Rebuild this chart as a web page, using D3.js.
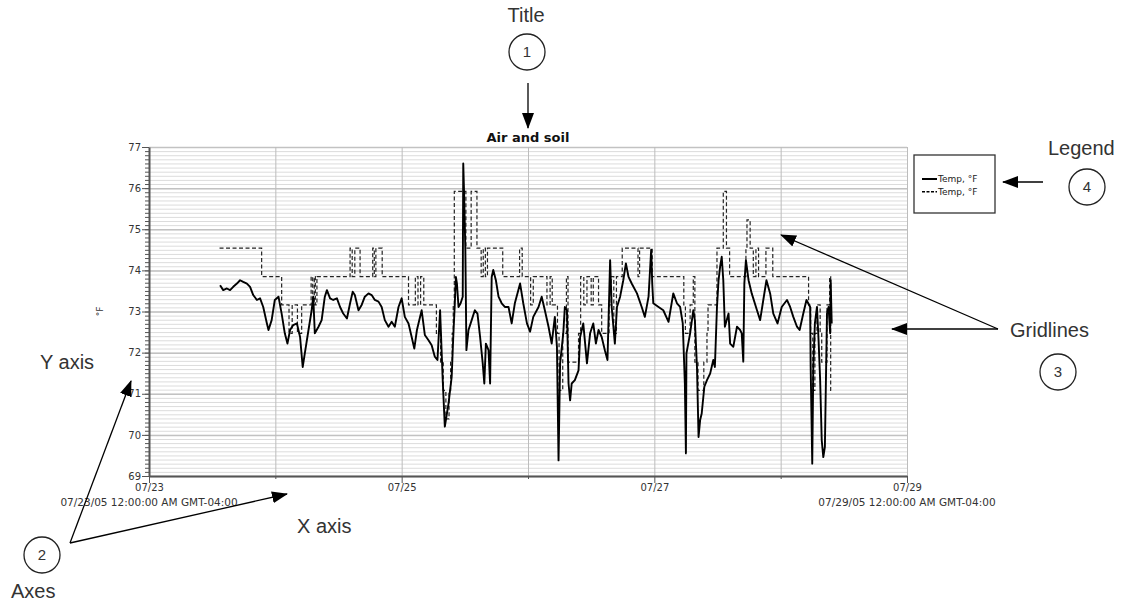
<!DOCTYPE html>
<html>
<head>
<meta charset="utf-8">
<style>
body { margin: 0; background: #fff; }
svg text { font-family: "DejaVu Sans", sans-serif; }
.note { font-family: "Liberation Sans", Arial, sans-serif !important; font-size: 20px; fill: #333; }
</style>
</head>
<body>
<svg width="1131" height="603"></svg>
<script src="https://d3js.org/d3.v7.min.js"></script>
<script>
// data: [hours since 07/23 00:00, temp °F]
var solidSeries = [
  [13.5,73.64],[14.1,73.52],[14.8,73.56],[15.4,73.52],[16.0,73.60],[16.7,73.68],[17.3,73.76],[17.9,73.72],
  [18.6,73.68],[19.2,73.60],[19.8,73.40],[20.5,73.28],[21.1,73.32],[21.7,73.11],[22.4,72.71],[22.7,72.55],
  [23.3,72.79],[23.9,73.28],[24.6,73.36],[25.2,72.95],[25.8,72.47],[26.3,72.22],[26.8,72.55],[27.4,72.67],
  [28.1,72.71],[28.7,72.38],[29.2,71.65],[29.6,71.98],[30.3,72.55],[30.9,73.03],[31.2,73.36],[31.5,72.47],
  [32.2,72.63],[32.8,72.79],[33.4,73.36],[33.8,73.52],[34.4,73.32],[35.0,73.28],[35.7,73.32],[36.3,73.11],
  [36.9,72.95],[37.6,72.83],[38.2,73.20],[38.7,73.48],[39.1,73.40],[39.8,73.03],[40.4,73.16],[41.0,73.36],
  [41.7,73.44],[42.3,73.40],[42.9,73.28],[43.6,73.24],[44.2,73.11],[44.8,72.79],[45.5,72.63],[46.1,72.75],
  [46.7,72.63],[47.4,73.11],[48.0,73.32],[48.6,72.87],[49.3,72.71],[49.9,72.38],[50.4,72.10],[50.9,72.55],
  [51.5,72.87],[51.8,73.03],[52.4,72.43],[53.1,72.30],[53.7,72.18],[54.3,71.90],[54.8,71.82],[55.3,73.03],
  [55.8,71.33],[56.2,70.20],[56.9,70.76],[57.5,71.41],[57.8,72.38],[58.1,73.20],[58.3,73.84],[58.5,73.68],
  [58.8,73.11],[59.2,73.20],[59.6,73.36],[59.7,76.60],[59.85,75.91],[60.1,74.49],[60.3,72.06],[60.7,72.55],
  [61.3,72.79],[61.9,73.03],[62.4,72.95],[62.9,72.38],[63.4,71.74],[63.7,71.25],[64.0,72.22],[64.5,72.06],
  [64.8,71.25],[65.1,73.84],[65.4,74.01],[65.9,73.76],[66.4,73.36],[67.0,73.20],[67.6,73.11],[68.3,73.11],
  [68.9,72.71],[69.5,73.20],[70.5,73.68],[71.1,73.20],[71.8,72.71],[72.4,72.51],[73.0,72.87],[74.0,73.11],
  [74.6,73.36],[75.2,73.03],[75.9,72.63],[76.5,72.22],[77.1,72.87],[77.5,72.14],[77.8,69.38],[78.1,71.74],
  [78.7,72.47],[79.0,73.11],[79.4,73.03],[79.7,71.25],[80.0,70.84],[80.3,71.25],[80.9,71.33],[81.6,71.57],
  [81.9,72.38],[82.5,72.71],[83.2,71.74],[83.8,72.47],[84.4,72.71],[84.9,72.22],[85.4,72.55],[86.0,72.38],
  [86.6,72.06],[87.1,71.82],[87.6,74.25],[87.9,73.11],[88.5,72.22],[88.9,73.11],[89.5,73.36],[90.1,73.76],
  [90.6,74.17],[91.1,73.84],[91.7,73.68],[92.7,73.44],[93.6,73.11],[94.2,72.87],[94.9,73.36],[95.4,74.50],
  [95.6,73.68],[95.8,73.20],[96.8,73.11],[97.7,73.03],[98.7,72.75],[99.6,73.44],[100.3,73.20],[100.9,73.11],
  [101.4,72.71],[101.8,71.25],[102.0,69.55],[102.1,71.98],[102.8,72.47],[103.4,73.03],[103.7,72.79],[104.1,71.65],
  [104.4,69.95],[104.7,70.36],[105.0,70.52],[105.5,71.17],[106.0,71.33],[106.6,71.49],[107.2,71.82],[107.5,71.65],
  [107.9,73.11],[108.2,73.76],[108.5,74.09],[108.8,74.33],[109.1,73.76],[109.4,72.63],[110.1,72.95],[110.4,72.22],
  [111.0,72.14],[111.7,72.63],[112.3,72.55],[112.6,72.47],[112.9,71.78],[113.1,73.68],[113.4,74.25],[113.9,73.76],
  [114.5,73.44],[115.5,73.03],[116.1,72.79],[116.7,73.28],[117.3,73.76],[118.0,73.44],[118.6,72.95],[119.4,72.71],
  [120.2,73.11],[121.2,73.28],[121.8,73.11],[122.4,72.87],[123.1,72.63],[123.6,72.55],[124.3,72.95],[124.9,73.28],
  [125.6,73.11],[125.7,71.65],[126.0,69.30],[126.2,71.65],[126.5,72.71],[126.9,73.11],[127.2,72.30],[127.5,71.33],
  [127.8,69.87],[128.1,69.46],[128.4,69.71],[128.8,72.95],[129.1,73.11],[129.4,72.47],[129.5,73.76],[129.7,72.71]
];
var dashSeries = [
  [13.4,74.54],[21.4,73.85],[25.2,73.16],[26.6,72.47],[27.2,73.16],[28.2,72.47],[29.0,73.16],[30.8,73.85],
  [31.1,73.16],[31.4,73.85],[31.6,73.16],[31.9,73.85],[38.2,74.54],[38.6,73.85],[39.1,74.54],[40.1,73.85],
  [42.5,74.54],[42.8,73.85],[43.1,74.54],[44.3,73.85],[49.3,73.16],[50.6,73.85],[51.1,73.16],[51.6,73.85],
  [52.2,73.16],[54.6,72.47],[55.4,71.77],[55.9,71.08],[56.4,70.39],[57.0,71.08],[57.3,71.77],[57.6,72.47],
  [57.8,73.16],[58.0,75.92],[60.2,74.54],[61.2,75.92],[62.3,74.54],[63.1,73.85],[63.5,74.54],[63.9,73.85],
  [64.3,74.54],[67.2,73.85],[70.4,74.54],[70.9,73.85],[72.5,73.16],[73.0,73.85],[75.6,73.16],[76.2,73.85],
  [76.6,73.16],[77.6,72.47],[77.9,71.08],[78.6,72.47],[79.3,73.85],[79.6,71.77],[81.6,72.47],[82.0,73.85],
  [82.6,73.16],[83.2,73.85],[84.0,73.16],[84.4,73.85],[85.4,73.16],[86.0,72.47],[87.4,73.16],[87.8,73.85],
  [88.3,72.47],[88.8,73.85],[89.9,74.54],[92.9,73.85],[93.2,74.54],[95.6,73.85],[101.6,73.16],[101.9,72.47],
  [102.8,73.16],[103.4,73.85],[103.7,71.77],[104.3,71.08],[105.4,71.77],[106.0,72.47],[106.2,73.16],[107.9,74.54],
  [109.1,75.92],[109.7,74.54],[110.3,73.85],[113.4,74.54],[113.6,75.23],[114.2,74.54],[114.8,73.85],[115.3,74.54],
  [115.8,73.85],[117.2,74.54],[118.5,73.85],[125.3,73.16],[125.7,72.47],[126.1,71.08],[126.5,72.47],[126.9,73.16],
  [127.5,72.47],[127.8,71.77],[128.8,73.16],[129.3,73.85],[129.5,71.08],[129.8,71.08]
];
var seriesNames = ['Temp, °F', 'Temp, °F'];
var yMajor = [69, 70, 71, 72, 73, 74, 75, 76, 77];
var dayFormat = d3.timeFormat('%m/%d');
var fullFormat = d3.timeFormat('%m/%d/%y %I:%M:%S %p');
var tzLabel = ' GMT-04:00';
var titleText = 'Air and soil';
var yLabel = '°F';

var startDate = new Date(2005, 6, 23);
var endDate = new Date(2005, 6, 29);
function toDate(h) { return new Date(startDate.getTime() + h * 3600000); }

var svgElem = d3.select('svg');
var margin = {left: 149, right: 224, top: 147, bottom: 127};
var width = +svgElem.attr('width') - margin.left - margin.right;
var height = +svgElem.attr('height') - margin.top - margin.bottom;
var g = svgElem.append('g')
    .attr('transform', `translate(${margin.left}, ${margin.top})`);

var x = d3.scaleTime().domain([startDate, endDate]).range([0, width]);
var y = d3.scaleLinear().domain([69, 77]).range([height, 0]);

// gridlines
g.append('g').selectAll('line').data(y.ticks(80)).enter().append('line')
    .attr('x1', 0).attr('x2', width)
    .attr('y1', d => y(d) + 0.5).attr('y2', d => y(d) + 0.5)
    .attr('stroke', '#dcdcdc').attr('stroke-width', 1);
g.append('g').selectAll('line').data(yMajor).enter().append('line')
    .attr('x1', 0).attr('x2', width)
    .attr('y1', d => y(d) + 0.5).attr('y2', d => y(d) + 0.5)
    .attr('stroke', '#c2c2c2').attr('stroke-width', 1.5);
var days = d3.timeDay.range(startDate, d3.timeDay.offset(endDate, 1));
g.append('g').selectAll('line').data(days).enter().append('line')
    .attr('x1', d => x(d) + 0.5).attr('x2', d => x(d) + 0.5)
    .attr('y1', 0).attr('y2', height)
    .attr('stroke', '#bdbdbd').attr('stroke-width', 1);

// series
var line = d3.line().x(d => x(toDate(d[0]))).y(d => y(d[1]));
g.append('path').datum(dashSeries)
    .attr('fill', 'none').attr('stroke', '#222').attr('stroke-width', 1.2)
    .attr('stroke-dasharray', '4,2.5')
    .attr('d', line.curve(d3.curveStepAfter));
g.append('path').datum(solidSeries)
    .attr('fill', 'none').attr('stroke', '#000').attr('stroke-width', 1.9)
    .attr('stroke-linejoin', 'round')
    .attr('d', d3.line().x(d => x(toDate(d[0]))).y(d => y(d[1])));

// axes
var yMinor = g.append('g').call(d3.axisLeft(y).tickValues(y.ticks(80)).tickSize(4).tickFormat(''));
yMinor.select('.domain').remove();
yMinor.selectAll('line').attr('stroke', '#555');
var yAxis = g.append('g').call(d3.axisLeft(y).tickValues(yMajor).tickSize(7).tickSizeOuter(0).tickPadding(1));
yAxis.select('.domain').attr('stroke', '#555').attr('stroke-width', 2);
yAxis.selectAll('line').attr('stroke', '#555');
yAxis.selectAll('text').attr('fill', '#333').style('font-size', '10px');

var evenDays = days.filter((d, i) => i % 2 === 0);
var oddDays = days.filter((d, i) => i % 2 === 1);
var xMinor = g.append('g').attr('transform', `translate(0, ${height})`)
    .call(d3.axisBottom(x).tickValues(oddDays).tickSize(3).tickFormat(''));
xMinor.select('.domain').remove();
xMinor.selectAll('line').attr('stroke', '#555');
var xAxis = g.append('g').attr('transform', `translate(0, ${height})`)
    .call(d3.axisBottom(x).tickValues(evenDays).tickSize(7).tickSizeOuter(0).tickPadding(1).tickFormat(dayFormat));
xAxis.select('.domain').attr('stroke', '#555').attr('stroke-width', 2);
xAxis.selectAll('line').attr('stroke', '#555');
xAxis.selectAll('text').attr('fill', '#333').style('font-size', '10px');

[startDate, endDate].forEach(function (d) {
    g.append('text')
        .attr('x', x(d)).attr('y', height + 30)
        .attr('text-anchor', 'middle')
        .style('font-size', '10.5px').attr('fill', '#333')
        .text(fullFormat(d) + tzLabel);
});

g.append('text')
    .attr('transform', `translate(-49, ${y(73)}) rotate(-90)`)
    .attr('text-anchor', 'middle').attr('dy', '0.35em')
    .style('font-size', '9px').attr('fill', '#333')
    .text(yLabel);

g.append('text')
    .attr('x', width / 2).attr('y', -5)
    .attr('text-anchor', 'middle')
    .style('font-size', '13px').style('font-weight', 'bold').attr('fill', '#111')
    .text(titleText);

// legend
var legend = g.append('g').attr('transform', `translate(${width + 7}, 8)`);
legend.append('rect').attr('width', 81).attr('height', 58)
    .attr('fill', '#fff').attr('stroke', '#333').attr('stroke-width', 1.3);
seriesNames.forEach(function (name, i) {
    var ly = 24 + i * 12.7;
    legend.append('line').attr('x1', 8).attr('x2', 23).attr('y1', ly).attr('y2', ly)
        .attr('stroke', '#000').attr('stroke-width', i === 0 ? 2 : 1.5)
        .attr('stroke-dasharray', i === 0 ? null : '3,1.5');
    legend.append('text').attr('x', 24).attr('y', ly).attr('dy', '0.35em')
        .style('font-size', '9px').attr('fill', '#222').text(name);
});

// callouts
var defs = svgElem.append('defs');
defs.append('marker').attr('id', 'arrow')
    .attr('markerUnits', 'userSpaceOnUse')
    .attr('markerWidth', 16).attr('markerHeight', 12)
    .attr('refX', 15).attr('refY', 6).attr('orient', 'auto')
    .append('path').attr('d', 'M0,0L16,6L0,12Z').attr('fill', '#000');

var notes = svgElem.append('g');
function arrow(x1, y1, x2, y2) {
    notes.append('line').attr('x1', x1).attr('y1', y1).attr('x2', x2).attr('y2', y2)
        .attr('stroke', '#000').attr('stroke-width', 1.3).attr('marker-end', 'url(#arrow)');
}
function badge(cx, cy, n) {
    notes.append('circle').attr('cx', cx).attr('cy', cy).attr('r', 18)
        .attr('fill', '#fff').attr('stroke', '#222').attr('stroke-width', 1.3);
    notes.append('text').attr('class', 'note').attr('x', cx).attr('y', cy).attr('dy', '0.36em')
        .attr('text-anchor', 'middle').style('font-size', '15px').text(n);
}
function note(tx, ty, t, anchor) {
    notes.append('text').attr('class', 'note').attr('x', tx).attr('y', ty)
        .attr('text-anchor', anchor || 'start').text(t);
}
note(526, 22, 'Title', 'middle');
badge(527, 52, '1');
arrow(528, 83, 528, 128);

note(1048, 155, 'Legend');
badge(1087, 187, '4');
arrow(1043, 182, 1003, 182);

note(1010, 337, 'Gridlines');
badge(1058, 372, '3');
arrow(998, 329, 892, 329);
arrow(998, 329, 781, 235);

note(40, 369, 'Y axis');
note(297, 533, 'X axis');
badge(42, 555, '2');
note(11, 598, 'Axes');
arrow(70, 543, 131, 381);
arrow(70, 543, 287, 494);
</script>
</body>
</html>
